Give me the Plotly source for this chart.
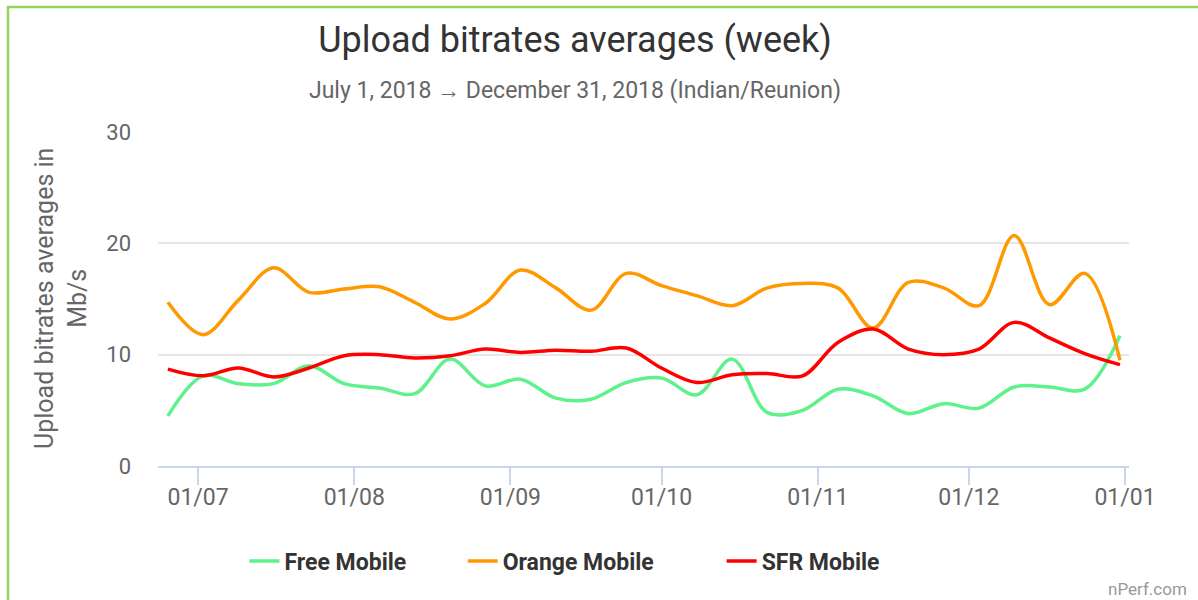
import plotly.graph_objects as go

# ---- data ----
week_starts = [
    "2018-06-25", "2018-07-02", "2018-07-09", "2018-07-16", "2018-07-23", "2018-07-30",
    "2018-08-06", "2018-08-13", "2018-08-20", "2018-08-27", "2018-09-03", "2018-09-10",
    "2018-09-17", "2018-09-24", "2018-10-01", "2018-10-08", "2018-10-15", "2018-10-22",
    "2018-10-29", "2018-11-05", "2018-11-12", "2018-11-19", "2018-11-26", "2018-12-03",
    "2018-12-10", "2018-12-17", "2018-12-24", "2018-12-31",
]
free_mobile = [4.5, 8.1, 7.4, 7.4, 9.0, 7.4, 7.0, 6.5, 9.6, 7.2, 7.8, 6.1, 6.0, 7.5,
               7.9, 6.4, 9.6, 4.8, 5.0, 6.9, 6.3, 4.7, 5.6, 5.2, 7.1, 7.1, 6.9, 11.7]
orange_mobile = [14.7, 11.8, 14.9, 17.8, 15.6, 15.9, 16.1, 14.7, 13.2, 14.6, 17.6, 16.0, 14.0, 17.3,
                 16.2, 15.3, 14.4, 16.0, 16.4, 16.0, 12.4, 16.5, 16.0, 14.4, 20.7, 14.5, 17.3, 9.5]
sfr_mobile = [8.7, 8.1, 8.8, 8.0, 8.8, 9.9, 10.0, 9.7, 9.9, 10.5, 10.2, 10.4, 10.3, 10.6,
              8.8, 7.5, 8.2, 8.3, 8.1, 11.1, 12.3, 10.5, 10.0, 10.5, 12.9, 11.5, 10.1, 9.1]

series_names = ["Free Mobile", "Orange Mobile", "SFR Mobile"]
series_colors = ["#5ff28c", "#ff9900", "#ff0000"]

tick_dates = ["2018-07-01", "2018-08-01", "2018-09-01", "2018-10-01",
              "2018-11-01", "2018-12-01", "2019-01-01"]
y_ticks = [0, 10, 20, 30]

title_text = "Upload bitrates averages (week)"
subtitle_text = "July 1, 2018 \u2192 December 31, 2018 (Indian/Reunion)"
y_title = "Upload bitrates averages in<br>Mb/s"
credit_text = "nPerf.com"

# ---- layout geometry ----
W, H = 1198, 600
ML, MR, MT, MB = 158, 69, 132, 134
PW, PH = W - ML - MR, H - MT - MB


def px_x(x):
    return (x - ML) / PW


def px_y(y):
    return (H - MB - y) / PH


FONT = "Roboto"
legend_pads = [9, 11, 0]  # non-breaking spaces after each legend entry (spacing)

fig = go.Figure()
for name, vals, col, pad in zip(series_names, [free_mobile, orange_mobile, sfr_mobile],
                                series_colors, legend_pads):
    fig.add_trace(go.Scatter(
        x=week_starts, y=vals, name=name + "\u00a0" * pad, mode="lines",
        line=dict(color=col, width=3.5, shape="spline", smoothing=1.0),
    ))

fig.update_layout(
    width=W, height=H,
    margin=dict(l=ML, r=MR, t=MT, b=MB, autoexpand=False),
    paper_bgcolor="white", plot_bgcolor="white",
    font=dict(family=FONT, color="#666666"),
    title=dict(text=title_text, x=575 / W, xanchor="center", xref="container",
               y=1 - 39 / H, yanchor="middle", yref="container",
               font=dict(family=FONT, size=36, color="#333333")),
    showlegend=True,
    legend=dict(orientation="h", x=px_x(565), xanchor="center",
                y=px_y(561), yanchor="middle",
                font=dict(family=FONT, size=23, color="#333333", weight="bold"),
                bgcolor="rgba(0,0,0,0)", traceorder="normal"),
    xaxis=dict(
        type="date", range=["2018-06-23 01:00", "2019-01-01 19:00"],
        tickvals=tick_dates, tickformat="%d/%m",
        showgrid=False, zeroline=False,
        showline=True, linecolor="#ccd6eb", linewidth=1.5,
        ticks="outside", ticklen=17, tickcolor="#ccd6eb", tickwidth=1.5,
        ticklabelstandoff=-7,
        tickfont=dict(family=FONT, size=23, color="#666666"),
    ),
    yaxis=dict(
        range=[0, 30], tickvals=y_ticks,
        showgrid=True, gridcolor="#e6e6e6", gridwidth=1.5,
        zeroline=False, showline=False, ticks="",
        ticklabelstandoff=26,
        tickfont=dict(family=FONT, size=22, color="#666666"),
    ),
    annotations=[
        dict(text=subtitle_text, xref="paper", yref="paper", x=px_x(575), y=px_y(90),
             xanchor="center", yanchor="middle", showarrow=False,
             font=dict(family=FONT, size=23, color="#666666")),
        dict(text=y_title, xref="paper", yref="paper", x=px_x(61), y=px_y(299),
             xanchor="center", yanchor="middle", showarrow=False, textangle=-90,
             font=dict(family=FONT, size=25, color="#666666")),
        dict(text=credit_text, xref="paper", yref="paper", x=px_x(1189), y=px_y(589),
             xanchor="right", yanchor="middle", showarrow=False,
             font=dict(family=FONT, size=17, color="#999999")),
    ],
    shapes=[
        dict(type="line", xref="paper", yref="paper", x0=px_x(7), x1=px_x(1200),
             y0=px_y(7), y1=px_y(7), line=dict(color="#97d35b", width=2.5), layer="above"),
        dict(type="line", xref="paper", yref="paper", x0=px_x(8), x1=px_x(8),
             y0=px_y(6), y1=px_y(602), line=dict(color="#97d35b", width=2.5), layer="above"),
    ],
)

fig.write_html("out.html", config={"displayModeBar": False},
               post_script="document.body.style.margin='0';")
